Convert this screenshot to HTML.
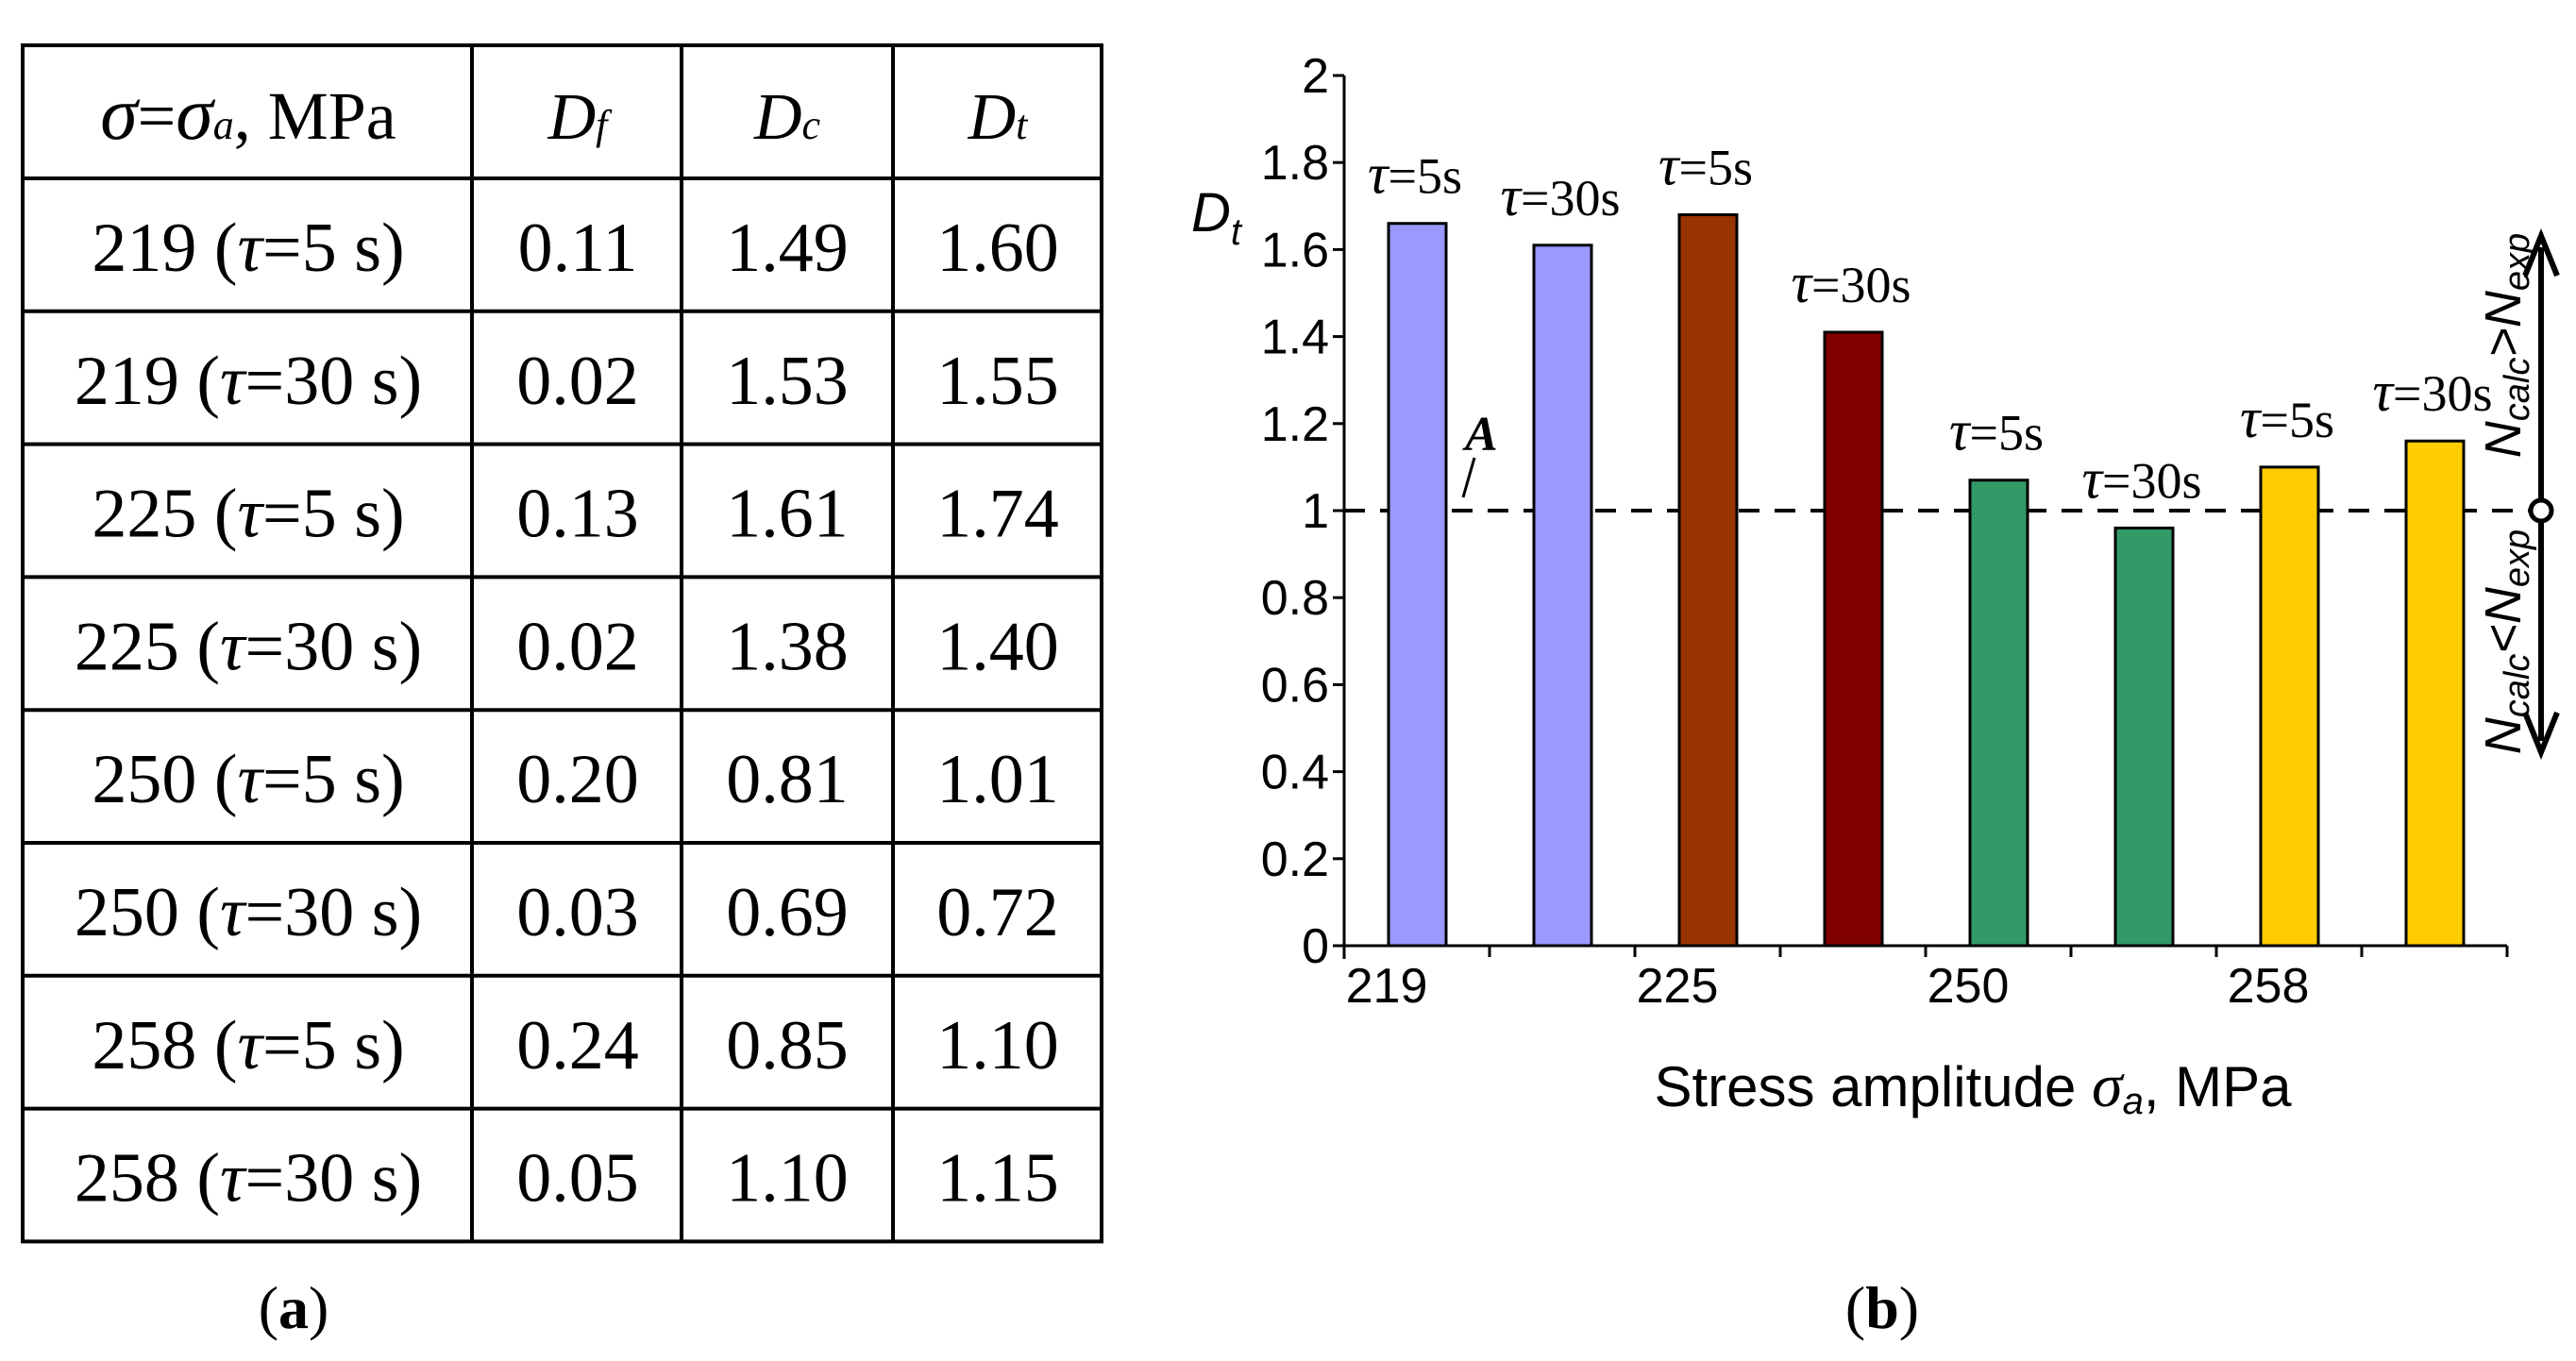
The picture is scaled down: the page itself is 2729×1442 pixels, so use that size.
<!DOCTYPE html>
<html><head><meta charset="utf-8"><style>
body{margin:0;background:#fff;}
svg{display:block;}
.ser{font-family:"Liberation Serif",serif;}
.san{font-family:"Liberation Sans",sans-serif;}
</style></head><body>
<svg id="s" width="2729" height="1442" viewBox="0 0 2729 1442" xmlns="http://www.w3.org/2000/svg">
<g id="table"></g>
<text class="ser" x="311" y="1407" font-size="64" text-anchor="middle">(<tspan font-weight="bold">a</tspan>)</text>
<g id="chart"></g>
<text class="ser" x="1994" y="1407" font-size="64" text-anchor="middle">(<tspan font-weight="bold">b</tspan>)</text>
</svg>
<script>
const NS="http://www.w3.org/2000/svg";
const rowNums=["219","219","225","225","250","250","258","258"];
const rowTaus=["5","30","5","30","5","30","5","30"];
const dfVals=["0.11","0.02","0.13","0.02","0.20","0.03","0.24","0.05"];
const dcVals=["1.49","1.53","1.61","1.38","0.81","0.69","0.85","1.10"];
const dtVals=["1.60","1.55","1.74","1.40","1.01","0.72","1.10","1.15"];
const categories=["219","225","250","258"];
const barValues=[1.66,1.61,1.68,1.41,1.07,0.96,1.10,1.16];
const barLabels=["5s","30s","5s","30s","5s","30s","5s","30s"];
const barColors=["#9999ff","#9999ff","#993300","#800000","#339966","#339966","#ffcc00","#ffcc00"];
const yTicks=[0,0.2,0.4,0.6,0.8,1,1.2,1.4,1.6,1.8,2];
const yTickLabels=["0","0.2","0.4","0.6","0.8","1","1.2","1.4","1.6","1.8","2"];

function el(tag,attrs,parent,txt){const e=document.createElementNS(NS,tag);for(const k in attrs)e.setAttribute(k,attrs[k]);if(txt!==undefined)e.textContent=txt;parent.appendChild(e);return e;}

// table
const T=document.getElementById('table');
const colX=[24,500,722,946,1167];
const tblTop=48,hdr=141,rh=140.8;
const rowsY=[tblTop,tblTop+hdr];for(let i=1;i<=8;i++)rowsY.push(tblTop+hdr+i*rh);
for(const y of rowsY){const l=el('line',{x1:22,x2:1169,y1:y,y2:y,stroke:'#000','stroke-width':4},T);}
for(const x of colX){const l=el('line',{x1:x,x2:x,y1:tblTop,y2:rowsY[9],stroke:'#000','stroke-width':4},T);}
const cx=[263,612,834,1057];
const hy=tblTop+99;
let h=el('text',{x:cx[0],y:hy,'font-size':72,'text-anchor':'middle',class:'ser'},T);

h.innerHTML='<tspan font-style="italic" font-size="80">σ</tspan>=<tspan font-style="italic" font-size="80">σ</tspan><tspan font-style="italic" font-size="44">a</tspan>, MPa';
const hs=[['D','f'],['D','c'],['D','t']];
hs.forEach((p,i)=>{const t=el('text',{x:cx[i+1],y:hy,'font-size':70,'text-anchor':'middle',class:'ser','font-style':'italic'},T);t.innerHTML=p[0]+'<tspan font-size="44">'+p[1]+'</tspan>';});
for(let i=0;i<8;i++){
 const y=rowsY[i+1]+98;
 const t0=el('text',{x:cx[0],y:y,'font-size':74,'text-anchor':'middle',class:'ser'},T);
 t0.innerHTML=rowNums[i]+' (<tspan font-style="italic">τ</tspan>='+rowTaus[i]+' s)';
 
 const vals=[dfVals[i],dcVals[i],dtVals[i]];
 vals.forEach((v,j)=>{const t=el('text',{x:cx[j+1],y:y,'font-size':74,'text-anchor':'middle',class:'ser'},T,v);});
}

// chart
const C=document.getElementById('chart');
const x0=1424,y0=1002,unit=461,slot=154,right=2656;
const Y=v=>y0-v*unit;
const ax=el('line',{x1:x0,x2:x0,y1:Y(2),y2:y0+14,stroke:'#000','stroke-width':3},C);
yTicks.forEach((v,i)=>{
 const tk=el('line',{x1:x0-12,x2:x0,y1:Y(v),y2:Y(v),stroke:'#000','stroke-width':3},C);
 const t=el('text',{x:x0-16,y:Y(v)+18,'font-size':52,'text-anchor':'end',class:'san'},C,yTickLabels[i]);
});
const dl=el('line',{x1:x0,x2:2692,y1:Y(1),y2:Y(1),stroke:'#000','stroke-width':4,'stroke-dasharray':'22 16'},C);
barValues.forEach((v,i)=>{
 const bx=x0+i*slot+47;
 const r=el('rect',{x:bx,y:Y(v),width:61,height:y0-Y(v),fill:barColors[i],stroke:'#000','stroke-width':3},C);
 const t=el('text',{x:bx+28,y:Y(v)-32,'font-size':54,'text-anchor':'middle',class:'ser'},C);t.innerHTML='<tspan font-style="italic" font-size="60">τ</tspan>='+barLabels[i];
});
const xa=el('line',{x1:x0-12,x2:right,y1:y0,y2:y0,stroke:'#000','stroke-width':3},C);
for(let k=0;k<=8;k++){const tk=el('line',{x1:x0+k*slot,x2:x0+k*slot,y1:y0,y2:y0+12,stroke:'#000','stroke-width':3},C);}
categories.forEach((c,i)=>{const t=el('text',{x:x0+i*2*slot+45+(i===3?10:0),y:y0+60,'font-size':52,'text-anchor':'middle',class:'san'},C,c);});
const xt=el('text',{x:2090,y:1172,'font-size':60,'text-anchor':'middle',class:'san'},C);xt.innerHTML='Stress amplitude <tspan font-style="italic" class="ser" font-size="66">σ</tspan><tspan font-style="italic" font-size="40" dy="8">a</tspan><tspan dy="-8">, MPa</tspan>';
const yt=el('text',{x:1262,y:245,'font-size':58,'font-style':'italic',class:'san'},C);yt.innerHTML='D<tspan font-size="40" dy="14">t</tspan>';
const A=el('text',{x:1552,y:477,'font-size':52,'font-style':'italic','font-weight':'bold',class:'ser'},C,'A');
const al=el('line',{x1:1562,y1:485,x2:1550,y2:527,stroke:'#000','stroke-width':3},C);
const ar=el('line',{x1:2692,x2:2692,y1:262,y2:785,stroke:'#000','stroke-width':6},C);
const ah=el('path',{d:'M2675 292 L2692 250 L2709 292 M2675 755 L2692 797 L2709 755',fill:'none',stroke:'#000','stroke-width':6},C);
const ci=el('circle',{cx:2692,cy:Y(1),r:11,fill:'#fff',stroke:'#000','stroke-width':5},C);
const t1=el('text',{x:0,y:0,'font-size':54,'font-style':'italic','text-anchor':'middle',class:'san',transform:'translate(2670,366) rotate(-90)'},C);t1.innerHTML='N<tspan font-size="38" dy="9">calc</tspan><tspan dy="-9">&gt;N</tspan><tspan font-size="38" dy="9">exp</tspan>';
const t2=el('text',{x:0,y:0,'font-size':54,'font-style':'italic','text-anchor':'middle',class:'san',transform:'translate(2670,680) rotate(-90)'},C);t2.innerHTML='N<tspan font-size="38" dy="9">calc</tspan><tspan dy="-9">&lt;N</tspan><tspan font-size="38" dy="9">exp</tspan>';
</script>
</body></html>
